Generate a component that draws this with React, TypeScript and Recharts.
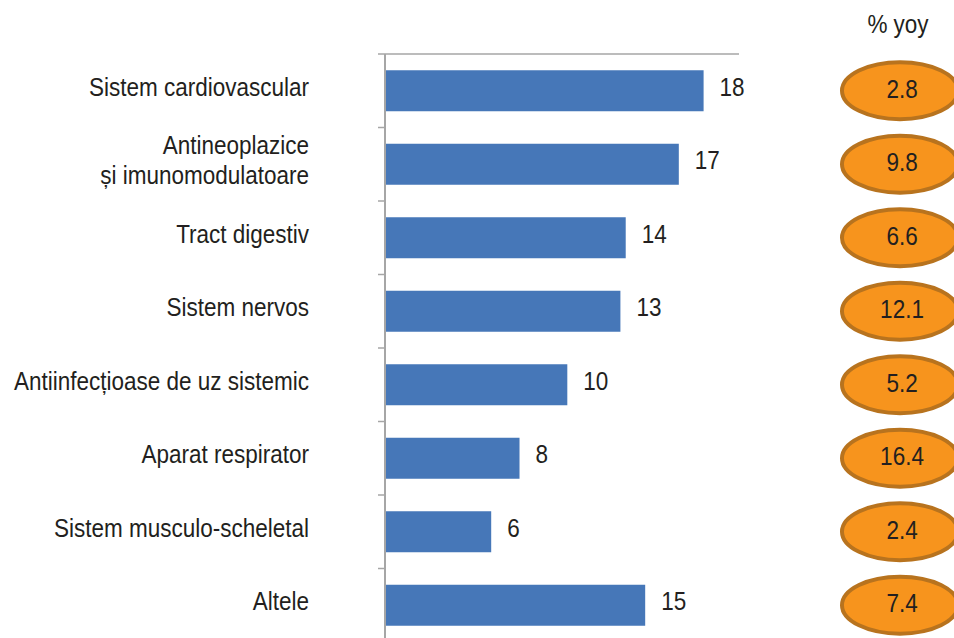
import { BarChart, Bar, XAxis, YAxis, LabelList } from "recharts";

const categories = [
  "Sistem cardiovascular",
  "Antineoplazice\nși imunomodulatoare",
  "Tract digestiv",
  "Sistem nervos",
  "Antiinfecțioase de uz sistemic",
  "Aparat respirator",
  "Sistem musculo-scheletal",
  "Altele",
];
const shares = [18.0, 16.6, 13.6, 13.3, 10.3, 7.6, 6.0, 14.7];
const yoy = [2.8, 9.8, 6.6, 12.1, 5.2, 16.4, 2.4, 7.4];
const xDomain = [0, 20];

const data = categories.map((name, i) => ({ name, share: shares[i], yoy: yoy[i] }));

// no condensed face installed, so squeeze Liberation Sans a little
const FONT = '"Liberation Sans", Arial, sans-serif';
const FONT_SIZE = 25;
const SQUEEZE = 0.9;
const INK = "#231f20";
const AXIS = "#a6a6a6";
const BAR = "#4677b8";

const W = 954;
const H = 642;
const TOP = 54;
const AXIS_W = 385;
const RIGHT = 215;
const BAND = (H - TOP) / categories.length;
const TICK_SIZE = 7;
const TICK_MARGIN = 69;
const ELLIPSE_CX = 902;

function NarrowText({ x, y, anchor = "start", children }: any) {
  return (
    <g transform={`translate(${x},${y}) scale(${SQUEEZE},1)`}>
      <text
        x={0}
        y={0}
        textAnchor={anchor}
        dominantBaseline="central"
        fill={INK}
        fontSize={FONT_SIZE}
        fontFamily={FONT}
      >
        {children}
      </text>
    </g>
  );
}

function CategoryTick(props: any) {
  const { x, y, payload, index } = props;
  const lines = String(payload.value).split("\n");
  const lineH = 30;
  const y0 = y - 4 - ((lines.length - 1) * lineH) / 2;
  const lx = x + TICK_MARGIN;
  return (
    <g>
      {lines.map((l, i) => (
        <NarrowText key={i} x={x} y={y0 + i * lineH} anchor="end">
          {l}
        </NarrowText>
      ))}
      <line x1={lx} x2={lx + TICK_SIZE} y1={y - BAND / 2} y2={y - BAND / 2} stroke={AXIS} strokeWidth={1.5} />
      {index === categories.length - 1 && (
        <line x1={lx} x2={lx + TICK_SIZE} y1={y + BAND / 2} y2={y + BAND / 2} stroke={AXIS} strokeWidth={1.5} />
      )}
    </g>
  );
}

function ValueLabel(props: any) {
  const { x, y, width, height, value } = props;
  return (
    <NarrowText x={x + width + 16} y={y + height / 2 - 4}>
      {Math.round(Number(value))}
    </NarrowText>
  );
}

function YoyBadge(props: any) {
  const { y, height, value } = props;
  const cy = y + height / 2;
  return (
    <g>
      <ellipse cx={ELLIPSE_CX - 2} cy={cy} rx={58} ry={28.5} fill="#f7941d" stroke="#b8731e" strokeWidth={4} />
      <NarrowText x={ELLIPSE_CX} y={cy - 2} anchor="middle">
        {Number(value).toFixed(1)}
      </NarrowText>
    </g>
  );
}

export default function App() {
  return (
    <div
      style={{
        position: "absolute",
        left: 0,
        top: 0,
        width: W,
        height: 638,
        overflow: "hidden",
        background: "#fff",
      }}
    >
      <svg width={W} height={50} style={{ position: "absolute", left: 0, top: 0 }}>
        <NarrowText x={898} y={24} anchor="middle">
          % yoy
        </NarrowText>
      </svg>
      <BarChart
        width={W}
        height={H}
        data={data}
        layout="vertical"
        margin={{ top: TOP - 1, right: RIGHT, left: 0, bottom: 0 }}
        barCategoryGap="22%"
      >
        <XAxis
          type="number"
          orientation="top"
          domain={xDomain}
          height={1}
          tick={false}
          tickLine={false}
          axisLine={{ stroke: AXIS, strokeWidth: 1.5 }}
        />
        <YAxis
          type="category"
          dataKey="name"
          width={AXIS_W}
          tickSize={TICK_SIZE}
          tickMargin={TICK_MARGIN}
          tickLine={false}
          axisLine={{ stroke: AXIS, strokeWidth: 2 }}
          tick={<CategoryTick />}
          interval={0}
        />
        <Bar dataKey="share" fill={BAR} isAnimationActive={false}>
          <LabelList dataKey="share" content={<ValueLabel />} />
          <LabelList dataKey="yoy" content={<YoyBadge />} />
        </Bar>
      </BarChart>
    </div>
  );
}
